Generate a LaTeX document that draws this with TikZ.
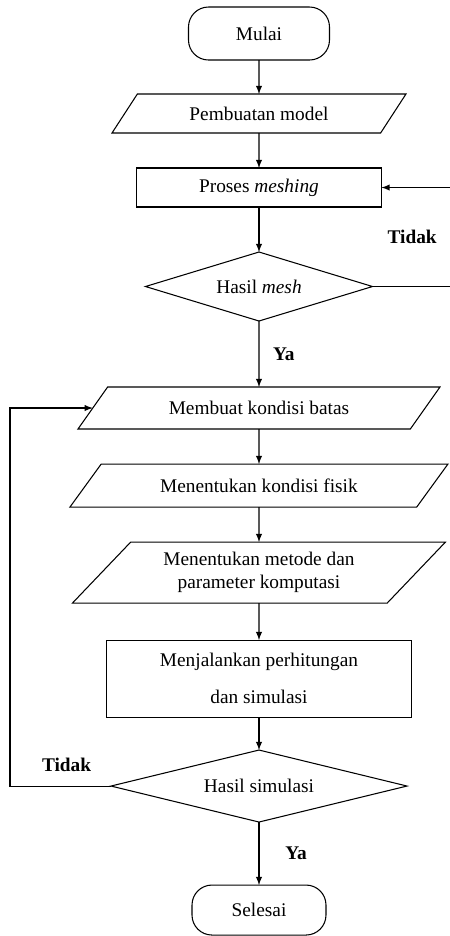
\documentclass[tikz,border=0pt]{standalone}
\usepackage{fontspec}
\setmainfont{Liberation Serif}
\usetikzlibrary{arrows}
\usetikzlibrary{positioning,shapes}

\begin{document}
\begin{tikzpicture}[%
        every node/.style={font=\fontsize{11}{13}\selectfont, inner sep=1pt, outer sep=0pt, align=center},
        terminal/.style={draw, rounded corners=0.4cm, minimum width=2.82cm, minimum height=1.06cm},
        proses/.style={draw, rectangle, minimum width=4.9cm, minimum height=0.78cm},
        io/.style={draw, trapezium, trapezium stretches body},
        keputusan/.style={draw, diamond, aspect=3, inner sep=0pt},
        lbl/.style={font=\fontsize{11}{13}\selectfont\bfseries, inner sep=0pt},
        line width=0.6pt, >=latex
      ]
      \useasboundingbox (0,0) rectangle (9,-18.72);
      \coordinate (kiri) at (0.2,0);
      \coordinate (kanan) at (9.05,0);
      \node [] (mulai) [terminal] at (5.18,-0.67) {Mulai};
      \node [] (pm) [io, trapezium left angle=34, trapezium right angle=146, minimum width=5.88cm, minimum height=0.78cm, below=0.68cm of mulai] {Pembuatan model};
      \node [] (ps) [proses, below=0.7cm of pm] {Proses \textit{meshing}};
      \node [] (hm) [keputusan, minimum width=4.54cm, minimum height=1.38cm, below=0.9cm of ps] {Hasil \textit{mesh}};
      \node [] (mkb) [io, trapezium left angle=30, trapezium right angle=150, minimum width=7.24cm, minimum height=0.84cm, below=1.32cm of hm] {Membuat kondisi batas};
      \node [] (mkf) [io, trapezium left angle=29, trapezium right angle=151, minimum width=7.56cm, minimum height=0.86cm, below=0.7cm of mkb] {Menentukan kondisi fisik};
      \node [] (mmp) [io, trapezium left angle=37, trapezium right angle=143, minimum width=7.46cm, minimum height=1.22cm, below=0.7cm of mkf] {Menentukan metode dan\\ parameter komputasi};
      \node [] (mph) [proses, minimum width=6.1cm, minimum height=1.54cm, below=0.74cm of mmp] {Menjalankan perhitungan\\[8pt] dan simulasi};
      \node [] (hs) [keputusan, minimum width=5.92cm, minimum height=1.44cm, below=0.66cm of mph] {Hasil simulasi};
      \node [] (sel) [terminal, minimum width=2.68cm, minimum height=1.0cm, below=1.26cm of hs] {Selesai};
      \path [draw] (mulai) edge[->] (pm)
      (pm) edge[->] (ps)
      (ps) edge[->] (hm)
      (hm) edge[->] node [lbl, right=8pt] (ya1) {Ya} (mkb)
      (mkb) edge[->] (mkf)
      (mkf) edge[->] (mmp)
      (mmp) edge[->] (mph)
      (mph) edge[->] (hs)
      (hs) edge[->] node [lbl, right=15pt] (ya2) {Ya} (sel);
      \draw [->] (hm.east) -- (hm.east -| kanan) |- node [lbl, pos=0.25, left=9pt] (td1) {Tidak} (ps.east);
      \draw [->] (hs.west) -- node [lbl, pos=0.44, above=8pt] (td2) {Tidak} (hs.west -| kiri) |- (mkb.west);
    \end{tikzpicture}
\end{document}
